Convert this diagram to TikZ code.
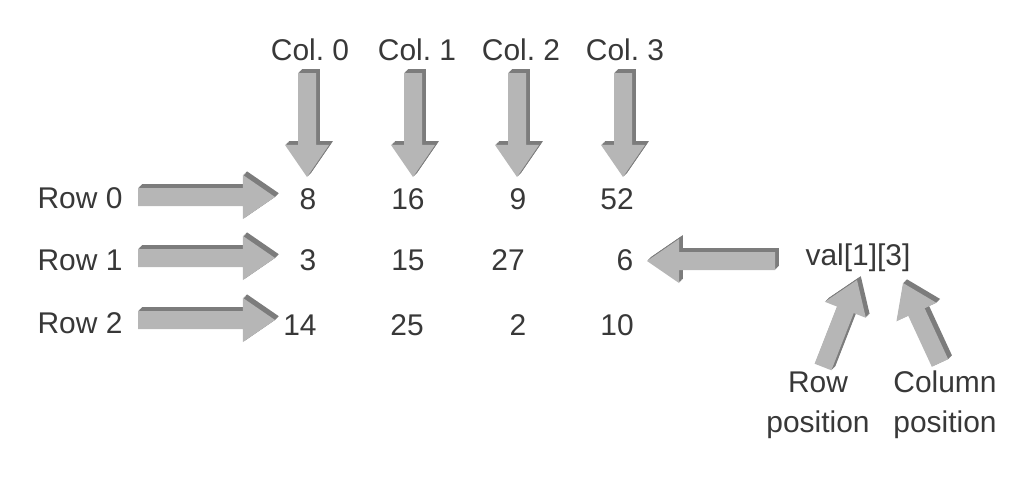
\documentclass[tikz,border=0pt]{standalone}
\usepackage{fontspec}
\setmainfont{Liberation Sans}
\usetikzlibrary{calc}
\frenchspacing

\definecolor{arrowface}{HTML}{B6B6B6}
\definecolor{arrowside}{HTML}{7C7C7C}
\definecolor{inkgray}{HTML}{383838}

\newcommand\shaftw{0.225cm}
\newcommand\headw{0.55cm}
\newcommand\headlen{0.8cm}

% block arrow from #1 to #2, with a darker side to look 3D
\newcommand\blockarrow[2]{%
  \coordinate (#1h) at ($(#2)!\headlen!(#1)$);
  \foreach \k in {6,...,1}
    \fill[arrowside] ($(#1)!\shaftw!90:(#2)+(\k*0.45pt,\k*0.45pt)$)
      -- ($(#1h)!\shaftw!90:(#2)+(\k*0.45pt,\k*0.45pt)$)
      -- ($(#1h)!\headw!90:(#2)+(\k*0.45pt,\k*0.45pt)$)
      -- ($(#2)+(\k*0.45pt,\k*0.45pt)$)
      -- ($(#1h)!\headw!-90:(#2)+(\k*0.45pt,\k*0.45pt)$)
      -- ($(#1h)!\shaftw!-90:(#2)+(\k*0.45pt,\k*0.45pt)$)
      -- ($(#1)!\shaftw!-90:(#2)+(\k*0.45pt,\k*0.45pt)$) -- cycle;
  \fill[arrowface] ($(#1)!\shaftw!90:(#2)$) -- ($(#1h)!\shaftw!90:(#2)$)
    -- ($(#1h)!\headw!90:(#2)$) -- (#2) -- ($(#1h)!\headw!-90:(#2)$)
    -- ($(#1h)!\shaftw!-90:(#2)$) -- ($(#1)!\shaftw!-90:(#2)$) -- cycle;
}

\tikzset{
  lbl/.style={text=inkgray, font=\fontsize{21.3}{26.3}\selectfont, inner sep=0pt, anchor=center},
}

\begin{document}
\begin{tikzpicture}[x=0.025cm, y=-0.025cm]
  \useasboundingbox (0,0) rectangle (1020,502);

  % Column headers
  \node[lbl] (col0) at (310,50) {Col. 0};
  \node[lbl] (col1) at (417,50) {Col. 1};
  \node[lbl] (col2) at (521,50) {Col. 2};
  \node[lbl] (col3) at (625,50) {Col. 3};

  % Row headers
  \node[lbl] (row0) at (80,198) {Row 0};
  \node[lbl] (row1) at (80,260) {Row 1};
  \node[lbl] (row2) at (80,323) {Row 2};

  % Values
  \node[lbl] (v00) at (308,199) {8};
  \node[lbl] (v01) at (408,199) {16};
  \node[lbl] (v02) at (518,199) {9};
  \node[lbl] (v03) at (617,199) {52};
  \node[lbl] (v10) at (308,260) {3};
  \node[lbl] (v11) at (408,260) {15};
  \node[lbl] (v12) at (508,260) {27};
  \node[lbl] (v13) at (625,260) {6};
  \node[lbl] (v20) at (300,325) {14};
  \node[lbl] (v21) at (407,325) {25};
  \node[lbl] (v22) at (518,325) {2};
  \node[lbl] (v23) at (617,325) {10};

  % Subscript expression
  \node[lbl] (val) at (858,258) {val[1][3]};
  \node[lbl, align=center] (rowpos) at (818,405) {Row\\[2pt]position};
  \node[lbl, align=center] (colpos) at (945,405) {Column\\[2pt]position};

  % Arrow ends
  \coordinate (c0a) at (307,73);  \coordinate (c0b) at (307,177);
  \coordinate (c1a) at (413,73);  \coordinate (c1b) at (413,177);
  \coordinate (c2a) at (517,73);  \coordinate (c2b) at (517,177);
  \coordinate (c3a) at (623,73);  \coordinate (c3b) at (623,177);
  \coordinate (r0a) at (138,197); \coordinate (r0b) at (275,197);
  \coordinate (r1a) at (138,258); \coordinate (r1b) at (275,258);
  \coordinate (r2a) at (138,320); \coordinate (r2b) at (275,320);
  \coordinate (va) at (775,261);  \coordinate (vb) at (647,261);
  \coordinate (rpa) at (823,367); \coordinate (rpb) at (857,280);
  \coordinate (cpa) at (940,363); \coordinate (cpb) at (903,283);

  % Block arrows
  \blockarrow{c0a}{c0b}
  \blockarrow{c1a}{c1b}
  \blockarrow{c2a}{c2b}
  \blockarrow{c3a}{c3b}
  \blockarrow{r0a}{r0b}
  \blockarrow{r1a}{r1b}
  \blockarrow{r2a}{r2b}
  \blockarrow{va}{vb}
  \blockarrow{rpa}{rpb}
  \blockarrow{cpa}{cpb}
\end{tikzpicture}
\end{document}
